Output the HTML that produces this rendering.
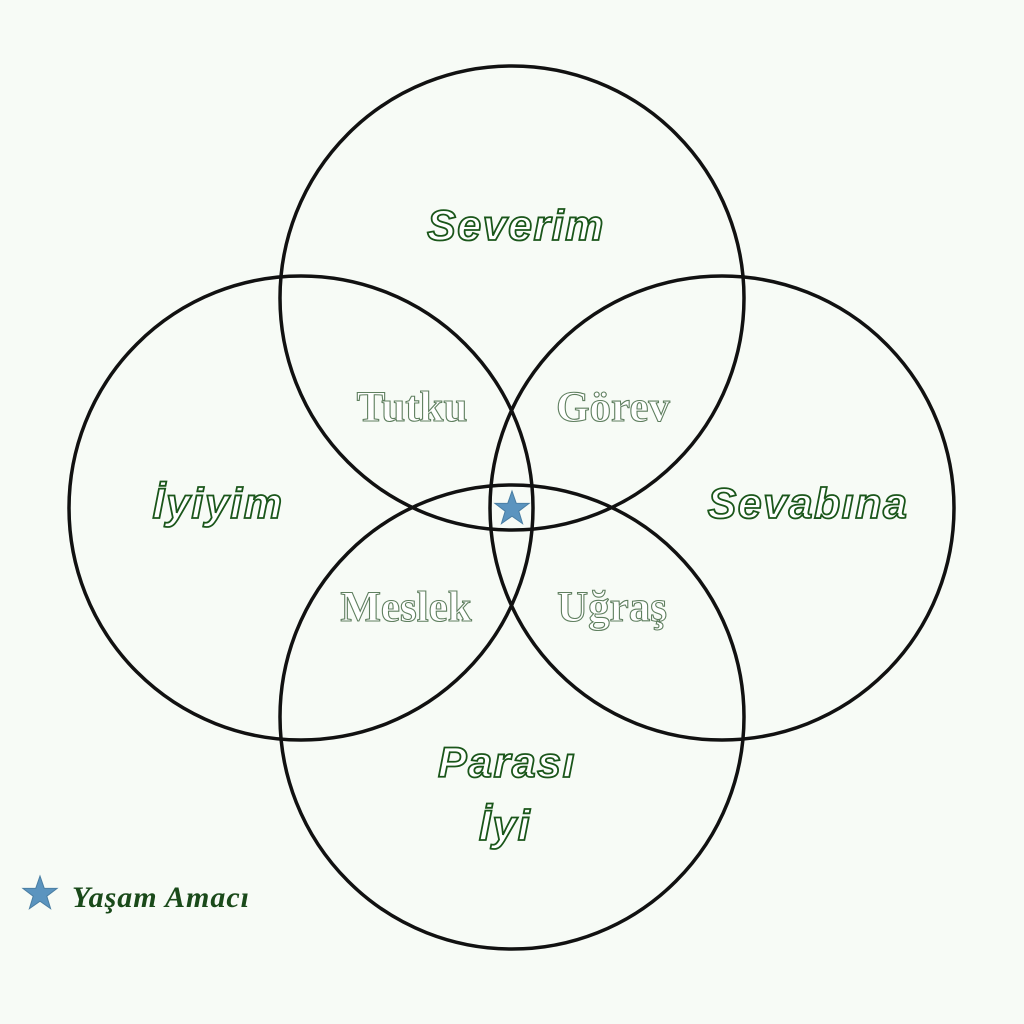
<!DOCTYPE html>
<html><head><meta charset="utf-8"><style>
html,body{margin:0;padding:0;background:#f7fbf6;}
svg{display:block}
.o{font-family:"Liberation Sans",sans-serif;font-weight:bold;font-style:italic;font-size:43px;fill:#fff;stroke:#1a561a;stroke-width:1.8;text-anchor:middle;letter-spacing:1.5px}
.m{font-family:"Liberation Serif",serif;font-weight:bold;font-size:43px;fill:#fff;stroke:#5f7f5f;stroke-width:1.1;text-anchor:middle}
</style></head><body>
<svg width="1024" height="1024" viewBox="0 0 1024 1024">
<rect width="1024" height="1024" fill="#f7fbf6"/>
<g fill="none" stroke="#111" stroke-width="3.5">
<circle cx="512" cy="298" r="232"/>
<circle cx="301" cy="508" r="232"/>
<circle cx="722" cy="508" r="232"/>
<circle cx="512" cy="717" r="232"/>
</g>
<text class="o" x="516" y="240">Severim</text>
<text class="o" x="218" y="518">İyiyim</text>
<text class="o" x="808" y="518">Sevabına</text>
<text class="o" x="507" y="777">Parası</text>
<text class="o" x="505" y="840">İyi</text>
<text class="m" x="412" y="421">Tutku</text>
<text class="m" x="613" y="421">Görev</text>
<text class="m" x="406" y="621">Meslek</text>
<text class="m" x="612" y="621">Uğraş</text>
<g fill="#5b94bf" stroke="#4a7ea3" stroke-width="1">
<polygon transform="translate(512,509)" points="0,-18 4.2,-5.8 17.1,-5.6 6.8,2.2 10.6,14.6 0,7.2 -10.6,14.6 -6.8,2.2 -17.1,-5.6 -4.2,-5.8"/>
<polygon transform="translate(40,894)" points="0,-18 4.2,-5.8 17.1,-5.6 6.8,2.2 10.6,14.6 0,7.2 -10.6,14.6 -6.8,2.2 -17.1,-5.6 -4.2,-5.8"/>
</g>
<text x="72" y="907" font-family="Liberation Serif,serif" font-style="italic" font-weight="bold" font-size="30" letter-spacing="1" fill="#1a4a1a">Yaşam Amacı</text>
</svg>
</body></html>
